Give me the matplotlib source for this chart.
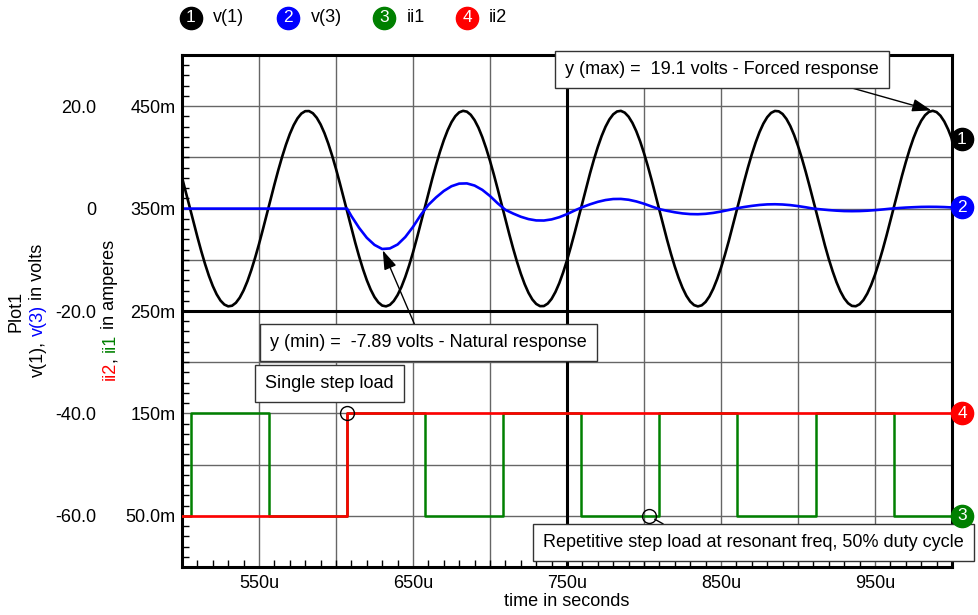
import numpy as np
import matplotlib

matplotlib.use("Agg")
import matplotlib.pyplot as plt  # noqa: E402
from matplotlib.font_manager import FontProperties  # noqa: E402
from matplotlib.lines import Line2D  # noqa: E402
from matplotlib.ticker import MultipleLocator  # noqa: E402
from matplotlib.transforms import offset_copy  # noqa: E402

plt.rcParams["font.family"] = ["Liberation Sans", "DejaVu Sans"]
plt.rcParams["font.size"] = 13

# --- data (time in microseconds) -------------------------------------------
V1_T = np.arange(500, 1000.1, 2.5)
V1 = [
    6.09, 3.23, 0.29, -2.66, -5.54, -8.30, -10.85, -13.15, -15.12, -16.74,
    -17.96, -18.74, -19.09, -18.97, -18.40, -17.39, -15.97, -14.17, -12.01, -9.58,
    -6.93, -4.10, -1.18, 1.78, 4.69, 7.49, 10.10, 12.48, 14.56, 16.29,
    17.63, 18.56, 19.03, 19.05, 18.62, 17.74, 16.44, 14.74, 12.69, 10.34,
    7.75, 4.96, 2.06, -0.89, -3.82, -6.66, -9.34, -11.80, -13.98, -15.81,
    -17.28, -18.32, -18.94, -19.09, -18.80, -18.05, -16.87, -15.29, -13.34, -11.09,
    -8.55, -5.81, -2.94, 0.01, 2.95, 5.83, 8.56, 11.09, 13.35, 15.30,
    16.88, 18.06, 18.80, 19.09, 18.93, 18.32, 17.27, 15.81, 13.96, 11.78,
    9.33, 6.65, 3.81, 0.88, -2.07, -4.98, -7.76, -10.35, -12.70, -14.75,
    -16.45, -17.75, -18.62, -19.05, -19.03, -18.55, -17.63, -16.28, -14.55, -12.47,
    -10.09, -7.47, -4.68, -1.76, 1.19, 4.11, 6.94, 9.60, 12.03, 14.18,
    15.98, 17.40, 18.41, 18.97, 19.09, 18.74, 17.95, 16.73, 15.11, 13.13,
    10.83, 8.28, 5.53, 2.65, -0.30, -3.24, -6.11, -8.82, -11.33, -13.56,
    -15.47, -17.02, -18.15, -18.85, -19.10, -18.89, -18.23, -17.14, -15.64, -13.76,
    -11.56, -9.07, -6.38, -3.52, -0.58, 2.37, 5.26, 8.03, 10.60, 12.92,
    14.94, 16.59, 17.85, 18.69, 19.07, 19.00, 18.48, 17.51, 16.13, 14.36,
    12.24, 9.84, 7.20, 4.39, 1.47, -1.49, -4.40, -7.21, -9.86, -12.25,
    -14.37, -16.14, -17.52, -18.48, -19.00, -19.07, -18.68, -17.85, -16.59, -14.93,
    -12.91, -10.58, -8.01, -5.25, -2.35, 0.60, 3.53, 6.39, 9.08, 11.57,
    13.78, 15.65, 17.15, 18.24, 18.89, 19.10, 18.85, 18.14, 17.01, 15.46,
    13.55,
]
V1_MAX_T, V1_MAX = 987.5, 19.1

V3_T = [500, 607.2] + list(range(610, 1001, 5))
V3 = [
    0.0, 0.0,
    -1.46, -3.76, -5.70, -7.09, -7.89, -7.78, -7.01, -5.55, -3.57, -1.26,
    0.73, 2.19, 3.44, 4.37, 4.88, 4.92, 4.50, 3.66, 2.46, 1.03,
    -0.24, -0.96, -1.59, -2.05, -2.31, -2.33, -2.11, -1.68, -1.08, -0.37,
    0.29, 0.84, 1.32, 1.67, 1.87, 1.89, 1.73, 1.40, 0.95, 0.41,
    -0.10, -0.43, -0.72, -0.94, -1.07, -1.10, -1.02, -0.84, -0.58, -0.27,
    0.05, 0.31, 0.53, 0.71, 0.82, 0.85, 0.80, 0.68, 0.49, 0.26,
    0.00, -0.15, -0.29, -0.40, -0.48, -0.50, -0.48, -0.41, -0.30, -0.17,
    -0.02, 0.10, 0.20, 0.27, 0.33, 0.35, 0.34, 0.30, 0.22,
]
V3_MIN_T, V3_MIN = 630, -7.89

II1_T = [500, 505.8, 556.5, 607.2, 657.9, 708.6, 759.3, 810.0, 860.7, 911.4, 962.1, 1000]
II1 = [0.05, 0.15, 0.05, 0.15, 0.05, 0.15, 0.05, 0.15, 0.05, 0.15, 0.05, 0.05]

II2_T = [500, 607.2, 1000]
II2 = [0.05, 0.15, 0.15]

STEP_T, STEP_I = 607.2, 0.15
REP_T, REP_I = 803.0, 0.05

X_TICKS = [550, 650, 750, 850, 950]
X_TICK_LABELS = ["550u", "650u", "750u", "850u", "950u"]
V_TICKS = [-60, -40, -20, 0, 20]
V_TICK_LABELS = ["-60.0", "-40.0", "-20.0", "0", "20.0"]
I_TICKS = [0.05, 0.15, 0.25, 0.35, 0.45]
I_TICK_LABELS = ["50.0m", "150m", "250m", "350m", "450m"]

NAMES = ["v(1)", "v(3)", "ii1", "ii2"]
COLORS = ["#000000", "#0000ff", "#008000", "#ff0000"]
GRID_C = "#666666"

W, H = 979, 615
FONT = FontProperties(family=["Liberation Sans", "DejaVu Sans"], size=13)


def px(x, y):
    """Pixel position (from top-left) to figure fraction."""
    return x / W, 1 - y / H


def rotated_label(fig, renderer, x, yc, pieces):
    """Vertical multi-coloured label centred at pixel (x, yc)."""

    def adv(s):
        if not s:
            return 0.0
        w1 = renderer.get_text_width_height_descent(s + "x", FONT, ismath=False)[0]
        w2 = renderer.get_text_width_height_descent("x", FONT, ismath=False)[0]
        return w1 - w2

    full = "".join(s for s, _ in pieces)
    start = (H - yc) - adv(full) / 2
    prefix = ""
    for s, c in pieces:
        lead = s[: len(s) - len(s.lstrip())]
        off = adv(prefix + lead)
        fig.text(x / W, (start + off) / H, s.strip(), rotation=90, rotation_mode="anchor",
                 ha="left", va="center", color=c, fontproperties=FONT)
        prefix += s


fig = plt.figure(figsize=(W / 100, H / 100), dpi=100)
ax = fig.add_axes([182 / W, 1 - 567 / H, (952 - 182) / W, (567 - 55) / H])
ax.set_xlim(500, 1000)
ax.set_ylim(-70, 30)

for gx in np.arange(550, 1000, 50):
    if gx != 750:
        ax.axvline(gx, color=GRID_C, lw=1.0, zorder=0.5)
for gy in np.arange(-60, 30, 10):
    if gy != -20:
        ax.axhline(gy, color=GRID_C, lw=1.0, zorder=0.5)
ax.axvline(750, color="black", lw=2.2, zorder=0.6)
ax.axhline(-20, color="black", lw=2.2, zorder=0.6)

for sp in ax.spines.values():
    sp.set_linewidth(2.2)
    sp.set_color("black")

ax.set_xticks(X_TICKS, X_TICK_LABELS)
ax.xaxis.set_minor_locator(MultipleLocator(10))
ax.tick_params(axis="x", which="major", length=0, pad=6)
ax.tick_params(axis="x", which="minor", direction="in", length=5, width=1)
ax.set_yticks(V_TICKS, V_TICK_LABELS)
ax.tick_params(axis="y", which="major", length=0, pad=62)

ax.plot(V1_T, V1, color=COLORS[0], lw=1.9, zorder=2)
ax.plot(V3_T, V3, color=COLORS[1], lw=1.9, zorder=2.1)

ax2 = ax.twinx()
ax2.set_ylim(0, 0.5)
ax2.yaxis.tick_left()
ax2.set_yticks(I_TICKS, I_TICK_LABELS)
ax2.yaxis.set_minor_locator(MultipleLocator(0.01))
ax2.tick_params(axis="y", which="major", length=0, pad=4.5, left=True, right=False)
ax2.tick_params(axis="y", which="minor", direction="in", length=5, width=1,
                left=True, right=False)
for sp in ax2.spines.values():
    sp.set_visible(False)

ax2.plot(II1_T, II1, color=COLORS[2], lw=1.8, drawstyle="steps-post", zorder=2)
ax2.plot(II2_T, II2, color=COLORS[3], lw=1.9, drawstyle="steps-post", zorder=2.1)

box = dict(boxstyle="square,pad=0.55", fc="white", ec="#333333", lw=1.0)

ax.annotate("y (max) =  19.1 volts - Forced response", xy=(V1_MAX_T, V1_MAX),
            xytext=(748.7, 27.2), ha="left", va="center", bbox=box, zorder=6,
            annotation_clip=False,
            arrowprops=dict(arrowstyle="-|>,head_length=0.9,head_width=0.3",
                            color="black", lw=1.0, relpos=(0.8, 0.0),
                            shrinkA=0, shrinkB=1))
ax.annotate("y (min) =  -7.89 volts - Natural response", xy=(V3_MIN_T, V3_MIN),
            xytext=(557.1, -26.2), ha="left", va="center", bbox=box, zorder=6,
            arrowprops=dict(arrowstyle="-|>,head_length=0.9,head_width=0.3",
                            color="black", lw=1.0, relpos=(0.47, 1.0),
                            shrinkA=0, shrinkB=1))

ax2.plot([STEP_T], [STEP_I], "o", mfc="none", mec="black", mew=1.0, ms=10, zorder=7)
ax2.annotate("Single step load", xy=(STEP_T, STEP_I), xytext=(553.9, 0.179),
             ha="left", va="center", bbox=box, zorder=6)
ax2.plot([REP_T], [REP_I], "o", mfc="none", mec="black", mew=1.0, ms=10, zorder=7)
ax2.annotate("Repetitive step load at resonant freq, 50% duty cycle",
             xy=(REP_T, REP_I), xytext=(734.4, 0.0236), ha="left", va="center",
             bbox=box, zorder=6, annotation_clip=False,
             arrowprops=dict(arrowstyle="-", color="black", lw=1.0,
                             relpos=(0.33, 1.0), shrinkA=0, shrinkB=5))

# numbered end markers just right of the plot
ends = [(ax, V1[-1]), (ax, V3[-1]), (ax2, II1[-1]), (ax2, II2[-1])]
for n, ((a, val), color) in enumerate(zip(ends, COLORS), start=1):
    tr = offset_copy(a.transData, fig=fig, x=10, y=0, units="dots")
    a.plot([1000], [val], "o", color=color, ms=16, transform=tr, clip_on=False, zorder=8)
    a.text(1000, val, str(n), transform=tr, color="white", ha="center", va="center",
           fontsize=12.5, zorder=9, clip_on=False)

# legend row across the top
LEG_MARK_X = [191, 288, 384, 467]
LEG_TEXT_X = [213, 311, 407, 489]
for n, (mx, tx, name, color) in enumerate(zip(LEG_MARK_X, LEG_TEXT_X, NAMES, COLORS), start=1):
    fx, fy = px(mx, 18)
    fig.add_artist(Line2D([fx], [fy], transform=fig.transFigure, marker="o", ms=16,
                          color=color, ls="none"))
    fig.text(fx, fy, str(n), color="white", ha="center", va="center", fontsize=12.5)
    fig.text(*px(tx, 18), name, ha="left", va="center", fontproperties=FONT)

fig.text(*px(567, 602), "time in seconds", ha="center", va="center", fontproperties=FONT)
fig.text(*px(16, 311), "Plot1", rotation=90, ha="center", va="center", fontproperties=FONT)

renderer = fig.canvas.get_renderer()
rotated_label(fig, renderer, 38, 310,
              [("v(1), ", COLORS[0]), ("v(3)", COLORS[1]), (" in volts", COLORS[0])])
rotated_label(fig, renderer, 110, 310,
              [("ii2", COLORS[3]), (", ", COLORS[0]), ("ii1", COLORS[2]),
               (" in amperes", COLORS[0])])

fig.savefig("out.png", dpi=100)
